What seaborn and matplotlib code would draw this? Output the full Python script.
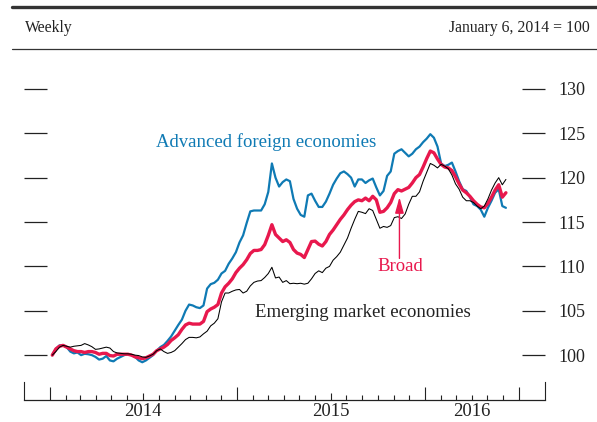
import numpy as np
import pandas as pd
import matplotlib
matplotlib.use("Agg")
import matplotlib.pyplot as plt
import matplotlib.dates as mdates
from matplotlib.lines import Line2D
from matplotlib.ticker import FixedLocator
import seaborn as sns

# Nominal dollar indexes, weekly, January 6, 2014 = 100
afe = [
    100.0, 100.7, 101.1, 101.1, 100.9, 100.4, 100.2, 100.3, 100.0, 100.15,
    100.1, 100.0, 99.8, 99.5, 99.6, 99.9, 99.4, 99.3, 99.6, 99.8,
    100.0, 100.1, 100.0, 99.8, 99.4, 99.2, 99.4, 99.7, 100.0, 100.5,
    100.9, 101.15, 101.6, 102.1, 102.75, 103.4, 104.0, 105.0, 105.7, 105.6,
    105.4, 105.3, 105.6, 107.5, 108.0, 108.15, 108.5, 109.2, 109.5, 110.3,
    110.9, 111.6, 112.7, 113.5, 114.9, 116.2, 116.3, 116.3, 116.3, 117.0,
    118.4, 121.6, 120.0, 119.0, 119.5, 119.8, 119.6, 117.6, 116.5, 115.8,
    115.6, 118.0, 118.2, 117.4, 116.7, 116.7, 117.3, 118.2, 119.2, 119.9,
    120.5, 120.7, 120.4, 120.0, 119.0, 119.8, 119.8, 119.4, 119.7, 119.9,
    118.9, 118.0, 118.5, 120.2, 120.7, 122.7, 123.0, 123.2, 122.8, 122.4,
    122.7, 123.2, 123.5, 124.0, 124.4, 124.9, 124.5, 123.5, 121.6, 121.3,
    121.45, 121.7, 120.7, 119.6, 118.7, 118.5, 117.8, 117.0, 116.8, 116.4,
    115.6, 116.6, 117.4, 118.3, 118.7, 116.8, 116.6,
]
broad = [
    100.0, 100.7, 101.0, 101.1, 100.9, 100.7, 100.5, 100.4, 100.4, 100.3,
    100.4, 100.4, 100.3, 100.1, 100.2, 100.2, 99.95, 99.9, 100.1, 100.1,
    100.1, 100.1, 100.0, 99.8, 99.7, 99.6, 99.7, 99.9, 100.1, 100.5,
    100.7, 100.9, 101.2, 101.65, 101.95, 102.3, 102.9, 103.4, 103.6, 103.5,
    103.5, 103.5, 103.8, 104.9, 105.2, 105.4, 105.7, 107.0, 107.7, 108.1,
    108.6, 109.3, 109.8, 110.2, 110.75, 111.45, 111.8, 111.8, 111.9, 112.45,
    113.5, 114.7, 113.6, 113.2, 112.8, 113.0, 112.7, 111.9, 111.5, 111.35,
    111.0, 111.9, 112.8, 112.85, 112.5, 112.3, 112.8, 113.6, 114.1, 114.7,
    115.3, 115.8, 116.4, 116.9, 117.3, 117.5, 117.4, 117.7, 117.4, 117.9,
    117.5, 116.1, 116.2, 116.6, 117.2, 118.2, 118.65, 118.5, 118.7, 118.9,
    119.4, 120.0, 120.35, 121.2, 122.15, 123.0, 122.8, 122.1, 121.5, 121.2,
    121.1, 120.8, 120.1, 119.3, 118.6, 118.3, 117.9, 117.4, 117.0, 116.7,
    116.6, 117.1, 117.8, 118.6, 119.2, 117.8, 118.3,
]
eme = [
    100.0, 100.4, 100.9, 101.1, 101.0, 100.9, 101.0, 101.05, 101.1, 101.3,
    101.15, 100.95, 100.65, 100.7, 100.8, 100.9, 100.8, 100.4, 100.25, 100.2,
    100.15, 100.15, 100.1, 100.0, 99.95, 99.8, 99.75, 99.9, 100.1, 100.5,
    100.7, 100.4, 100.2, 100.3, 100.5, 100.9, 101.3, 101.75, 102.0, 102.0,
    101.95, 102.05, 102.4, 102.7, 103.3, 103.6, 104.1, 106.0, 107.0, 107.0,
    107.2, 107.35, 107.4, 107.0, 107.2, 107.8, 108.2, 108.35, 108.4, 108.75,
    109.2, 109.9, 108.7, 108.8, 108.2, 108.4, 108.05, 108.1, 108.05, 108.1,
    108.0, 108.1, 108.6, 109.2, 109.5, 109.3, 109.8, 110.0, 110.7, 111.1,
    111.6, 112.4, 113.2, 114.3, 115.3, 116.2, 116.1, 115.95, 116.5, 116.3,
    115.3, 114.3, 114.5, 114.4, 114.6, 115.5, 115.6, 115.4, 115.9, 117.0,
    117.9, 117.9, 118.4, 119.6, 120.6, 121.6, 121.4, 121.1, 121.5, 121.3,
    121.0, 120.3, 119.3, 118.7, 117.8, 117.4, 117.4, 117.2, 116.8, 116.5,
    116.8, 117.6, 118.6, 119.4, 120.0, 119.2, 119.8,
]
weeks = pd.date_range("2014-01-06", periods=len(broad), freq="7D")

y_ticks = [100, 105, 110, 115, 120, 125, 130]
year_labels = ["2014", "2015", "2016"]
year_label_dates = ["2014-07-02", "2015-07-02", "2016-04-01"]

BLUE = "#0f7ab4"
RED = "#e8184d"
INK = "#222222"

sns.set_theme(style="white")
plt.rcParams["font.family"] = ["Liberation Serif", "DejaVu Serif"]

W, H = 597, 422
fig = plt.figure(figsize=(W / 100, H / 100), dpi=100)
ax = fig.add_axes([24 / W, 1 - 399.5 / H, 521 / W, 350.5 / H])

df = pd.DataFrame({"week": weeks, "afe": afe, "broad": broad, "eme": eme})
sns.lineplot(data=df, x="week", y="afe", color=BLUE, linewidth=1.6, ax=ax)
sns.lineplot(data=df, x="week", y="broad", color=RED, linewidth=2.4, ax=ax)
sns.lineplot(data=df, x="week", y="eme", color="black", linewidth=0.75, ax=ax)
ax.set_xlabel("")
ax.set_ylabel("")

d = lambda s: mdates.date2num(pd.Timestamp(s))
ax.set_xlim(d("2013-11-12"), d("2016-08-21"))
ax.set_ylim(95, 134.5)

# y axis: inward dashes on both sides, labels on the right
ax.yaxis.set_major_locator(FixedLocator(y_ticks))
ax.tick_params(axis="y", which="major", direction="in", length=16.6, width=0.9,
               color=INK, left=True, right=True, labelleft=False,
               labelright=True, pad=10, labelsize=13, labelcolor=INK)

# x axis: year ticks, monthly minor ticks, labels centred on each year
major = ["2014-01-01", "2015-01-01", "2016-01-01", "2016-07-01"]
ax.xaxis.set_major_locator(FixedLocator([d(s) for s in major]))
months = pd.date_range("2014-02-01", "2016-06-01", freq="MS")
minor = [m for m in months if m.month not in (1, 7)]
ax.xaxis.set_minor_locator(FixedLocator([mdates.date2num(m) for m in minor]))
ax.tick_params(axis="x", which="major", direction="in", length=9.4, width=0.8,
               color=INK, bottom=True, labelbottom=False)
ax.tick_params(axis="x", which="minor", direction="in", length=3.6, width=0.8,
               color=INK, bottom=True)
ax.vlines([d("2014-07-01"), d("2015-07-01")], 0, 7 / 350.5,
          transform=ax.get_xaxis_transform(), color=INK, lw=0.8)

for s in ["top"]:
    ax.spines[s].set_visible(False)
for s in ["left", "right"]:
    ax.spines[s].set_bounds(95, 95 + 17 / 8.87)
    ax.spines[s].set_color(INK)
    ax.spines[s].set_linewidth(0.8)
ax.spines["bottom"].set_color(INK)
ax.spines["bottom"].set_linewidth(0.9)

for lab, ds in zip(year_labels, year_label_dates):
    ax.text(d(ds), -12 / 350.5, lab, transform=ax.get_xaxis_transform(),
            ha="center", va="center", fontsize=13.5, color=INK)

# series labels
ax.text(d("2015-02-26"), 124.0, "Advanced foreign economies", color=BLUE,
        ha="center", va="center", fontsize=13.5)
ax.text(d("2015-09-01"), 104.85, "Emerging market economies", color=INK,
        ha="center", va="center", fontsize=13.5)
ax.text(d("2015-11-13"), 110.0, "Broad", color=RED,
        ha="center", va="center", fontsize=13.5)
ax.annotate("", xy=(d("2015-11-12"), 117.8), xytext=(d("2015-11-12"), 110.9),
            arrowprops=dict(arrowstyle="-|>,head_length=0.8,head_width=0.22",
                            color=RED, lw=1.0, mutation_scale=12,
                            shrinkA=0, shrinkB=0))

# header band
fig.add_artist(Line2D([12 / W, 1], [1 - 7 / H] * 2, lw=2.4, color="#333333"))
fig.add_artist(Line2D([12 / W, 1], [1 - 49 / H] * 2, lw=0.9, color="#333333"))
fig.text(25 / W, 1 - 28 / H, "Weekly", ha="left", va="center",
         fontsize=11.3, color=INK)
fig.text(590 / W, 1 - 28 / H, "January 6, 2014 = 100", ha="right",
         va="center", fontsize=11.3, color=INK)

fig.savefig("out.png", dpi=100)
